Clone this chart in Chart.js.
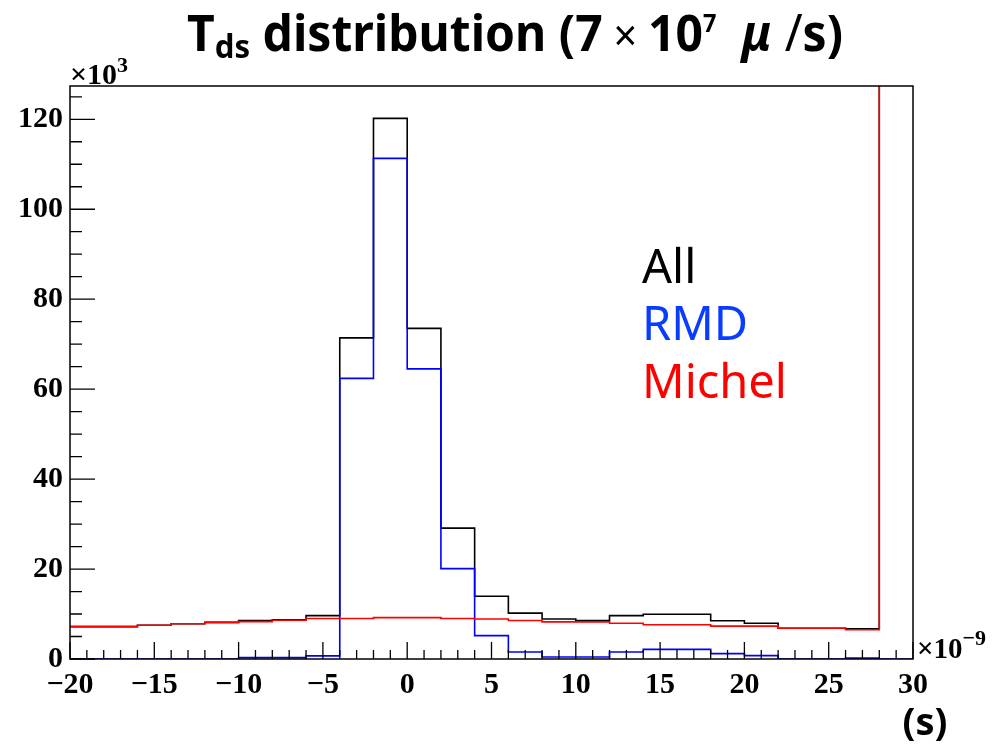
<!DOCTYPE html>
<html>
<head>
<meta charset="utf-8">
<script src="https://cdn.jsdelivr.net/npm/chart.js@4.4.1/dist/chart.umd.min.js"></script>
<style>
  html, body { margin: 0; padding: 0; background: #fff; }
  #tdsChart { display: block; }
</style>
</head>
<body>
<canvas id="tdsChart" width="992" height="747"></canvas>
<script>
// bin lower edges (x 10^-9 s), last upper edge is 30
const binEdges = [-20, -18, -16, -14, -12, -10, -8, -6, -4, -2, 0, 2, 4, 6, 8, 10, 12, 14, 16, 18, 20, 22, 24, 26, 28];
const upperEdge = 30;

// counts in units of 10^3
const allCounts = [7.2, 7.2, 7.5, 7.85, 8.15, 8.55, 8.7, 9.65, 71.4, 120.2, 73.5, 29.1, 13.95, 10.2, 8.9, 8.55, 9.65, 9.95, 9.95, 8.5, 7.95, 6.85, 6.85, 6.7, 300];
const rmdCounts = [0, 0, 0, 0, 0, 0.3, 0.3, 0.7, 62.4, 111.3, 64.5, 20.1, 5.2, 1.55, 0.45, 0.45, 1.55, 2.15, 2.15, 1.2, 0.75, 0, 0, 0.2, 0];
const michelCounts = [7.2, 7.2, 7.5, 7.85, 8.15, 8.3, 8.6, 9.0, 9.0, 9.2, 9.2, 9.0, 8.9, 8.55, 8.25, 8.25, 7.95, 7.6, 7.6, 7.3, 7.3, 6.85, 6.85, 6.5, 300];

const xTickValues = [-20, -15, -10, -5, 0, 5, 10, 15, 20, 25, 30];
const yTickValues = [0, 20, 40, 60, 80, 100, 120];
const legendNames = ["All", "RMD", "Michel"];
const legendColors = ["#000000", "#0a3cff", "#ff0000"];

// turn bin contents into step points
function histPoints(counts) {
    const pts = binEdges.map((x, i) => ({ x: x, y: counts[i] }));
    pts.push({ x: upperEdge, y: counts[counts.length - 1] });
    return pts;
}

function drawParts(ctx, parts, x0, baseline, targetWidth) {
    let total = 0;
    parts.forEach(p => {
        ctx.font = p.font;
        p.w = ctx.measureText(p.t).width;
        total += p.w;
    });
    const sx = targetWidth ? targetWidth / total : 1;
    ctx.save();
    ctx.translate(x0, baseline);
    ctx.scale(sx, 1);
    let x = 0;
    parts.forEach(p => {
        ctx.font = p.font;
        ctx.fillText(p.t, x, p.dy || 0);
        x += p.w;
    });
    ctx.restore();
}

// frame, inward ticks and all the loose text
const rootStyle = {
    id: "rootStyle",
    afterDraw(chart) {
        const ctx = chart.ctx;
        const area = chart.chartArea;
        const xs = chart.scales.x;
        const ys = chart.scales.y;

        ctx.save();
        ctx.strokeStyle = "#000";
        ctx.lineWidth = 1.5;
        ctx.strokeRect(area.left, area.top, area.right - area.left, area.bottom - area.top);

        ctx.lineWidth = 1.3;
        ctx.beginPath();
        // x ticks: minor every 1, major every 5
        for (let v = -20; v <= 30; v++) {
            const px = xs.getPixelForValue(v);
            const len = (v % 5 === 0) ? 17 : 9;
            ctx.moveTo(px, area.bottom);
            ctx.lineTo(px, area.bottom - len);
        }
        // y ticks: minor every 5, major every 20
        for (let v = 0; v <= 125; v += 5) {
            const py = ys.getPixelForValue(v);
            const len = (v % 20 === 0) ? 25 : 12;
            ctx.moveTo(area.left, py);
            ctx.lineTo(area.left + len, py);
        }
        ctx.stroke();

        ctx.fillStyle = "#000";
        ctx.textAlign = "left";
        ctx.textBaseline = "alphabetic";

        // title
        const big = "bold 51px 'Noto Sans'";
        const small = "bold 33px 'Noto Sans'";
        drawParts(ctx, [
            { t: "T", font: big },
            { t: "ds", font: small, dy: 7 },
            { t: " distribution (7", font: big },
            { t: " \u00d7 ", font: "44px 'Noto Sans'" },
            { t: "10", font: big },
            { t: "7", font: "bold 25px 'Noto Sans'", dy: -19 },
            { t: "  ", font: big },
            { t: "\u03bc", font: "italic bold 51px 'Noto Sans'" },
            { t: " /", font: "51px 'Noto Sans'" },
            { t: "s)", font: big }
        ], 187, 50.5, 656);

        // axis multipliers
        drawParts(ctx, [
            { t: "\u00d710", font: "bold 30px 'Liberation Serif'" },
            { t: "3", font: "bold 22px 'Liberation Serif'", dy: -12 }
        ], 70, 83.5);
        drawParts(ctx, [
            { t: "\u00d710", font: "bold 29px 'Liberation Serif'" },
            { t: "\u22129", font: "bold 22px 'Liberation Serif'", dy: -13 }
        ], 917, 658);

        ctx.textAlign = "center";
        ctx.font = "bold 38px 'Noto Sans'";
        ctx.fillText("(s)", 925, 735);

        // legend
        ctx.textAlign = "left";
        ctx.font = "47px 'Noto Sans'";
        const baselines = [283, 340, 398];
        legendNames.forEach((name, i) => {
            ctx.fillStyle = legendColors[i];
            ctx.fillText(name, 642, baselines[i]);
        });
        ctx.restore();
    }
};

const tdsCtx = document.getElementById("tdsChart").getContext("2d");

const tdsChart = new Chart(tdsCtx, {
    type: "line",
    data: {
        datasets: [
            {
                label: legendNames[0],
                data: histPoints(allCounts),
                borderColor: "#000000",
                order: 3,
            },
            {
                label: legendNames[1],
                data: histPoints(rmdCounts),
                borderColor: "#0000ff",
                order: 2,
            },
            {
                label: legendNames[2],
                data: histPoints(michelCounts),
                borderColor: "#ff0000",
                order: 1,
            },
        ],
    },
    options: {
        responsive: false,
        animation: false,
        devicePixelRatio: 1,
        datasets: {
            line: {
                // horizontal at the bin value first, then vertical at the next edge
                stepped: "before",
                pointRadius: 0,
                borderWidth: 1.6,
                fill: false,
                tension: 0,
            },
        },
        layout: {
            padding: { top: 86, right: 79, left: 0, bottom: 0 },
        },
        plugins: {
            legend: { display: false },
            title: { display: false },
            tooltip: { enabled: false },
        },
        scales: {
            x: {
                type: "linear",
                min: -20,
                max: 30,
                grid: { display: false, drawTicks: false },
                border: { display: false },
                afterBuildTicks: (scale) => {
                    scale.ticks = xTickValues.map(v => ({ value: v }));
                },
                afterFit: (scale) => { scale.height = 88; },
                ticks: {
                    color: "#000",
                    padding: 8,
                    autoSkip: false,
                    maxRotation: 0,
                    font: { family: "'Liberation Serif'", size: 30, weight: "bold" },
                    callback: (v) => (v < 0 ? "\u2212" + Math.abs(v) : String(v)),
                },
            },
            y: {
                min: 0,
                max: 127.4,
                grid: { display: false, drawTicks: false },
                border: { display: false },
                afterBuildTicks: (scale) => {
                    scale.ticks = yTickValues.map(v => ({ value: v }));
                },
                afterFit: (scale) => { scale.width = 70; },
                ticks: {
                    color: "#000",
                    padding: 7,
                    font: { family: "'Liberation Serif'", size: 30, weight: "bold" },
                },
            },
        },
    },
    plugins: [rootStyle],
});
</script>
</body>
</html>
